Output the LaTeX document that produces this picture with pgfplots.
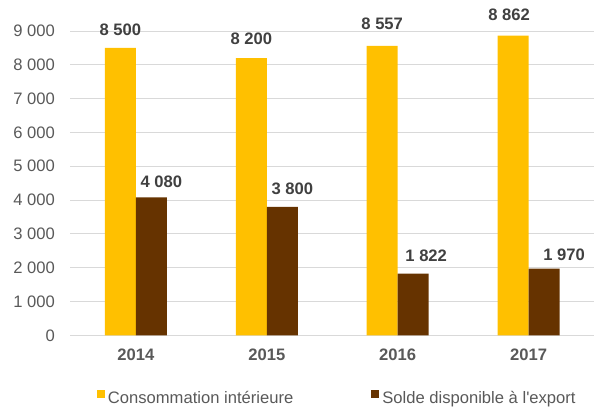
\documentclass[border=0pt]{standalone}
\usepackage{pgfplots}
\pgfplotsset{compat=1.18}
\usepackage{fontspec}
\setmainfont{Liberation Sans}
\definecolor{cyel}{HTML}{FFC000}
\definecolor{cbrn}{HTML}{663300}
\definecolor{cgrid}{HTML}{D9D9D9}
\definecolor{ctick}{HTML}{595959}
\definecolor{clab}{HTML}{404040}
\newcommand{\fs}{\fontsize{16.6}{19}\selectfont}
\begin{document}
\fs
\begin{tikzpicture}
\path[use as bounding box] (-70.5pt,-73.7pt) rectangle (530.5pt,335.3pt);
\begin{axis}[
  at={(0pt,0pt)}, anchor=south west,
  width=523.5pt, height=304.3pt, scale only axis,
  xmin=-0.5, xmax=3.5, ymin=0, ymax=9000,
  ybar=0pt, bar width=31pt,
  clip=false,
  axis line style={draw=none},
  major tick length=0pt,
  ymajorgrids, grid style={cgrid, line width=0.8pt},
  xtick={0,1,2,3}, xticklabels={2014,2015,2016,2017},
  ytick={0,1000,2000,3000,4000,5000,6000,7000,8000,9000},
  /pgf/number format/1000 sep={\ },
  /pgf/number format/assume math mode=true,
  tick label style={font=\fs, text=ctick, inner sep=0pt},
  yticklabel style={anchor=east, xshift=-15.5pt},
  xticklabel style={anchor=north, yshift=-13.7pt, font=\fs\bfseries},
  legend columns=2,
  legend cell align=left,
  legend style={at={(0,0)}, anchor=south west, xshift=26.2pt, yshift=-70.4pt,
    draw=none, fill=none, inner sep=0pt,
    nodes={inner sep=0pt, text=ctick, font=\fs},
    /tikz/column 1/.style={column sep=3pt},
    /tikz/column 2/.style={column sep=78pt},
    /tikz/column 3/.style={column sep=3pt}},
  nodes near coords,
  every node near coord/.append style={anchor=south, inner sep=0pt, text=clab,
    font=\fs\bfseries},
]
\addplot[fill=cyel, draw=none,
  legend image code/.code={\fill[cyel] (0pt,0.3pt) rectangle (8pt,8.3pt);},
  visualization depends on={value \thisrow{dx}\as\dx},
  visualization depends on={value \thisrow{dy}\as\dy},
  every node near coord/.append style={xshift=\dx, yshift=\dy}]
  table {
x y dx dy
0 8500 0 12.3
1 8200 0 12.7
2 8557 0 16
3 8862 -4 15
};
\addlegendentry{Consommation intérieure}
\addplot[fill=cbrn, draw=none,
  legend image code/.code={\fill[cbrn] (0pt,0.3pt) rectangle (8pt,8.3pt);},
  visualization depends on={value \thisrow{dx}\as\dx},
  visualization depends on={value \thisrow{dy}\as\dy},
  every node near coord/.append style={xshift=\dx, yshift=\dy}]
  table {
x y dx dy
0 4080 10 9
1 3800 10 12
2 1822 13 12
3 1970 20 7.5
};
\addlegendentry{Solde disponible à l\textquotesingle export}
\end{axis}
\end{tikzpicture}
\end{document}
